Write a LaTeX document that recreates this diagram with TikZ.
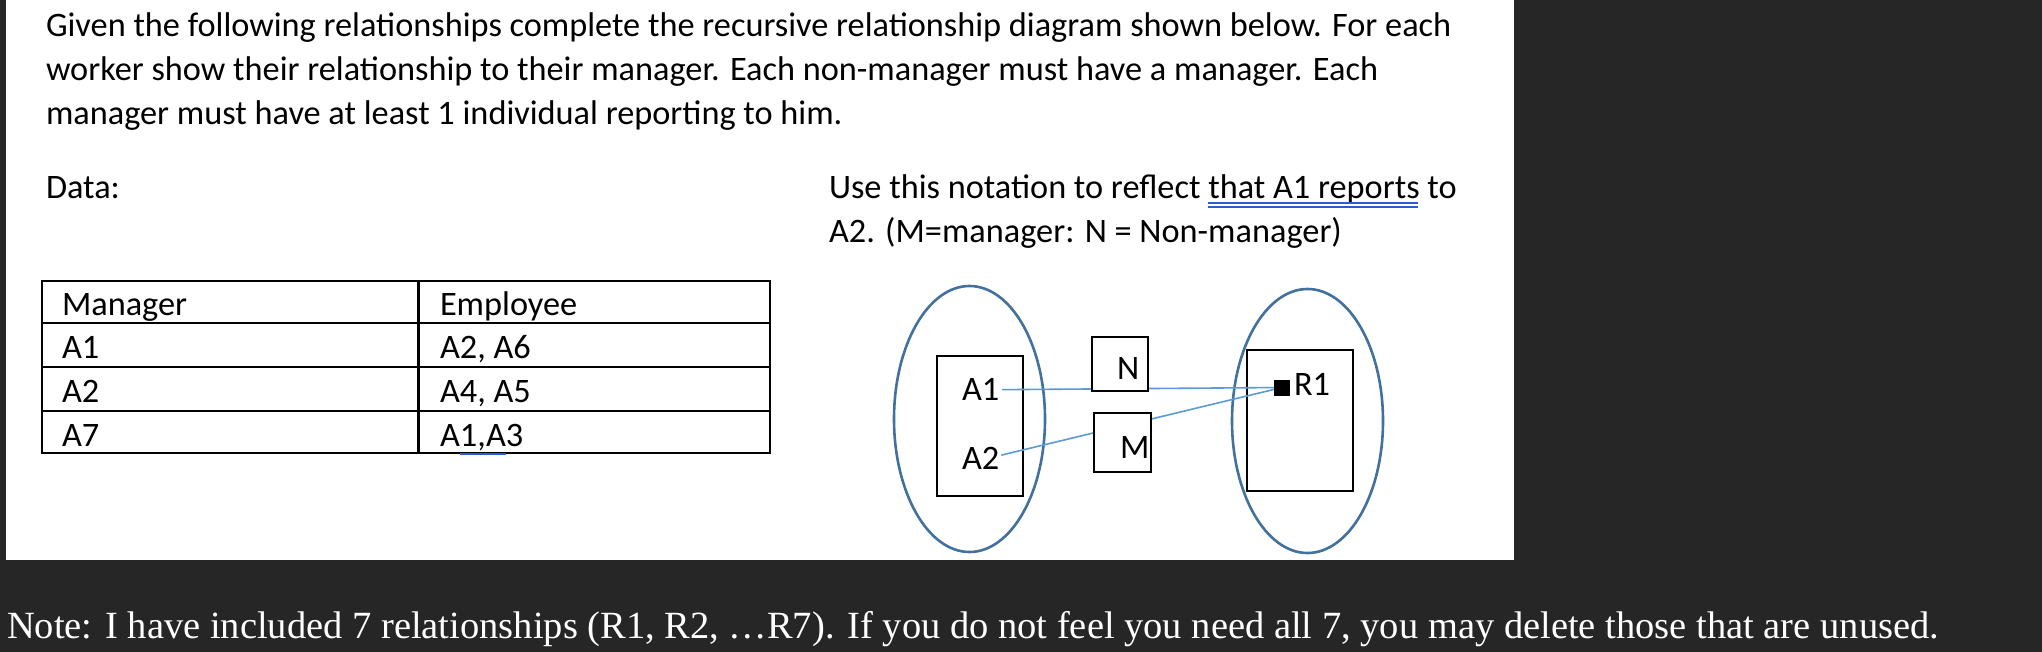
\documentclass[tikz,border=0pt]{standalone}
\usepackage{fontspec}
\setmainfont{Carlito}
\newfontfamily\notefont{Liberation Serif}
\definecolor{pagebg}{HTML}{262626}
\definecolor{ringblue}{HTML}{41719C}
\definecolor{linkblue}{HTML}{5B9BD5}
\definecolor{markblue}{HTML}{2A5BD7}
\begin{document}
\begin{tikzpicture}[x=1pt,y=-1pt,line width=2pt,
    font=\fontsize{34.3}{40}\selectfont,inner sep=0pt,
    txt/.style={anchor=base west},
    ring/.style={draw=ringblue,line width=2.6pt},
    link/.style={draw=linkblue,line width=1.6pt},
    grid/.style={line width=2.6pt}]
    \path[use as bounding box] (0,0) rectangle (2042,652);
    \fill[pagebg] (0,0) rectangle (2042,652);
    \fill[white] (6,0) rectangle (1514,560);
    \node[txt] (line1) at (45,37) {Given the following relationships complete the recursive relationship diagram shown below. For each};
    \node[txt] (line2) at (45,81) {worker show their relationship to their manager. Each non-manager must have a manager. Each};
    \node[txt] (line3) at (45,125) {manager must have at least 1 individual reporting to him.};
    \node[txt] (data) at (45,199) {Data:};
    \node[txt] (use1) at (828,199) {Use this notation to reflect that A1 reports to};
    \node[txt] (use2) at (828,243) {A2. (M=manager: N = Non-manager)};
    \draw[markblue,line width=1.5pt] (1208,203) -- (1418,203) (1208,207) -- (1418,207);
    \draw[grid] (42,281) rectangle (770,453);
    \foreach \y in {323,367,411}
      \draw[grid] (42,\y) -- (770,\y);
    \draw[grid] (418.5,281) -- (418.5,453);
    \foreach \m/\e/\y in {Manager/Employee/315,A1/{A2, A6}/358,A2/{A4, A5}/402,A7/{A1,A3}/446} {
      \node[txt] (mgr\y) at (61,\y) {\m};
      \node[txt] (emp\y) at (439,\y) {\e};
    }
    \draw[markblue,line width=2.5pt] (460,454) -- (506,454);
    \draw[ring] (969.5,419) ellipse [x radius=75.5,y radius=133];
    \draw[ring] (1307.5,421) ellipse [x radius=75.5,y radius=132];
    \draw (936.7,356) rectangle (1022.7,496);
    \draw (1247,350) rectangle (1352.7,490.7);
    \node[txt] (a1) at (961,400.7) {A1};
    \node[txt] (a2) at (961,469.3) {A2};
    \node[fill,minimum size=16pt] (sq) at (1282,387.5) {};
    \node[txt] (r1) at (1293,395.7) {R1};
    \draw[link] ([xshift=2pt]a1.east) -- (sq.center);
    \draw[link] ([xshift=1pt,yshift=3pt]a2.east) -- (sq.center);
    \draw[fill=white] (1092,336.7) rectangle (1147.7,391);
    \draw[fill=white] (1094.3,412.7) rectangle (1150.7,471.7);
    \node[txt] (n) at (1116,379) {N};
    \node[txt] (m) at (1119,458.3) {M};
    \node[fill,minimum size=16pt] at (sq) {};
    \node[txt,text=white,font=\notefont\fontsize{38.5}{44}\selectfont] (note) at (6,638)
      {Note: I have included 7 relationships (R1, R2, \dots R7). If you do not feel you need all 7, you may delete those that are unused.};
  \end{tikzpicture}
\end{document}
